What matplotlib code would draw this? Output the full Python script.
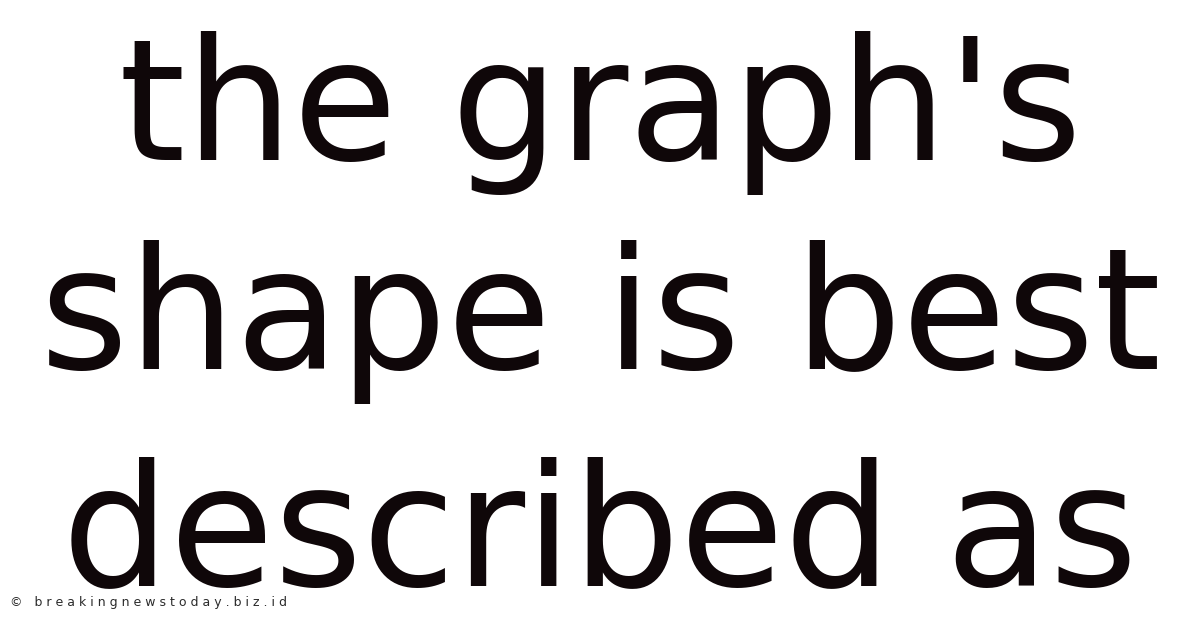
import matplotlib.pyplot as plt

lines = ["the graph's", "shape is best", "described as"]
watermark = "© breakingnewstoday.biz.id"

W, H = 1200, 628
fig = plt.figure(figsize=(W / 100, H / 100), dpi=100)
fig.patch.set_facecolor('white')

# baselines in pixels from top
baselines = [160, 369, 585]
for txt, b in zip(lines, baselines):
    fig.text(0.5, 1 - b / H, txt, ha='center', va='baseline',
             fontsize=122, family='DejaVu Sans', color='#0f0709')

# watermark is letter-spaced in the reference: put a punctuation space between chars
spaced = '\u2008'.join(watermark)
fig.text(10 / W, 1 - 606 / H, spaced, ha='left', va='baseline',
         fontsize=9, family='DejaVu Sans', color='#2b2b2b')

fig.savefig('out.png', dpi=100, facecolor='white')
